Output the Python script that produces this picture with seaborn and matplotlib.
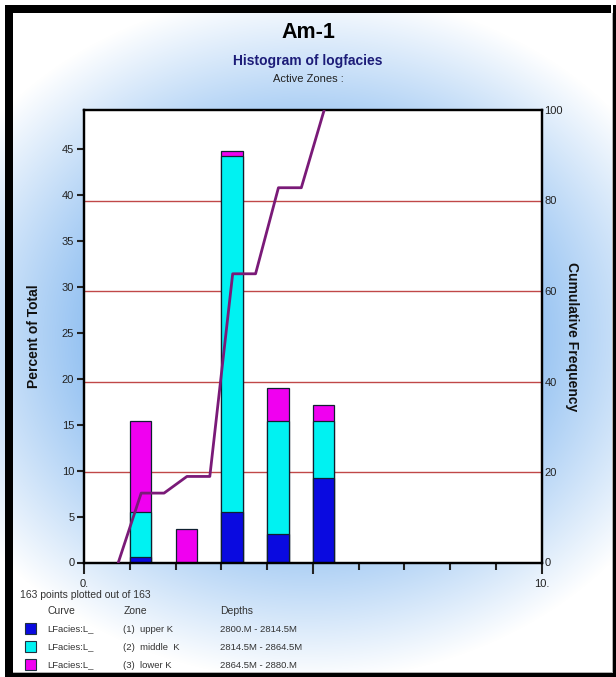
import numpy as np
import pandas as pd
import matplotlib
matplotlib.use("Agg")
import matplotlib.pyplot as plt
import matplotlib.transforms as mtransforms
from matplotlib.patches import Rectangle
import seaborn as sns

# ---- data: sample counts per log facies code, split by zone ----
facies_codes = [1, 2, 3, 4, 5]
upper_k = [1, 0, 9, 5, 15]
middle_k = [8, 0, 63, 20, 10]
lower_k = [16, 6, 1, 6, 3]
total_points = 163

zone_names = ["(1)  upper K", "(2)  middle  K", "(3)  lower K"]
zone_depths = ["2800.M - 2814.5M", "2814.5M - 2864.5M", "2864.5M - 2880.M"]
curve_name = "LFacies:L_"

left_ticks = [0, 5, 10, 15, 20, 25, 30, 35, 40, 45]
right_ticks = [0, 20, 40, 60, 80, 100]
x_tick_labels = {0: "0.", 10: "10."}

# ---- styling ----
C_BLUE = "#0a0ae0"
C_CYAN = "#00f2f2"
C_MAG = "#f000f0"
C_LINE = "#7a1a78"
C_GRID = "#c04848"
FONT = "Liberation Sans"

W, H = 616, 677
sns.set_theme(style="white")
plt.rcParams["font.family"] = [FONT, "DejaVu Sans"]

fig = plt.figure(figsize=(W / 100, H / 100), dpi=100, facecolor="white")

# background: soft blue glow fading to white, inside a black frame
bg = fig.add_axes([0, 0, 1, 1], zorder=-5)
yy, xx = np.mgrid[0:H, 0:W]
t = np.sqrt(((xx - 308) / 350.0) ** 2 + ((yy - 335) / 300.0) ** 2)
f = np.clip((1.15 - t) / 0.5, 0, 1)[..., None]
blue = np.array([0.60, 0.77, 0.95])
img = 1 - (1 - blue) * f
bg.imshow(img, extent=(0, W, H, 0), aspect="auto", interpolation="bilinear")
for (x0, y0, w, h) in [(5, 5, 606, 8), (5, 5, 8, 672), (613, 5, 3, 672), (5, 673, 611, 4)]:
    bg.add_patch(Rectangle((x0, y0), w, h, color="black", lw=0))
bg.add_patch(Rectangle((13, 671.5), 600, 1.5, color="#b0b0b0", lw=0))
bg.add_patch(Rectangle((611.5, 13), 1.5, 660, color="#b0b0b0", lw=0))
bg.set_xlim(0, W)
bg.set_ylim(H, 0)
bg.axis("off")

# main axes
L, R, T, B = 84, 541.5, 110, 562.5
ax = fig.add_axes([L / W, 1 - B / H, (R - L) / W, (B - T) / H], zorder=1)
ax.set_facecolor("white")

blue_arr = np.array(upper_k)
cyan_arr = blue_arr + np.array(middle_k)
mag_arr = cyan_arr + np.array(lower_k)
pct = lambda a: 100.0 * a / total_points

# bars start at the facies code and extend 0.47 to the right
bar_w = 0.47
df = pd.DataFrame({
    "x": np.array(facies_codes) + bar_w / 2,
    "lower": pct(mag_arr),
    "middle": pct(cyan_arr),
    "upper": pct(blue_arr),
})
for col, colr in [("lower", C_MAG), ("middle", C_CYAN), ("upper", C_BLUE)]:
    sns.barplot(data=df, x="x", y=col, native_scale=True, width=bar_w,
                color=colr, saturation=1, errorbar=None,
                edgecolor="#102030", linewidth=0.9, ax=ax, zorder=2)

ymax_left = 49.2
ax.set_xlim(0, 10)
ax.set_ylim(0, ymax_left)
ax.set_xlabel("")
ax.set_ylabel("Percent of Total", fontsize=10, fontweight="bold", color="#111111", labelpad=15)

# cumulative frequency on the right axis
ax2 = ax.twinx()
ax2.set_ylim(0, 100)
cum = pct(np.cumsum(np.array(upper_k) + np.array(middle_k) + np.array(lower_k)))
cum_prev = np.concatenate([[0], cum[:-1]])
line_x, line_y = [], []
for c, p0, p1 in zip(facies_codes, cum_prev, cum):
    line_x += [c - 0.25, c + 0.25]
    line_y += [p0, p1]
sns.lineplot(x=line_x, y=line_y, ax=ax2, color=C_LINE, lw=2, sort=False,
             estimator=None, zorder=5)
ax2.set_ylabel("Cumulative Frequency", fontsize=10, fontweight="bold",
               color="#111111", rotation=270, labelpad=12)

# horizontal reference lines at the cumulative 20/40/60/80 levels
tr = mtransforms.blended_transform_factory(ax.transAxes, ax2.transData)
for v in right_ticks[1:-1]:
    ax.plot([0, 1], [v, v], transform=tr, color=C_GRID, lw=1.0, zorder=1)

# ticks
ax.set_yticks(left_ticks)
ax.set_yticklabels([str(v) for v in left_ticks])
ax.tick_params(axis="y", direction="out", length=5, width=1.5, pad=2,
               labelsize=8, colors="#222222", left=True)
ax.set_xticks(range(0, 11))
ax.set_xticklabels([x_tick_labels.get(i, "") for i in range(0, 11)])
ax.tick_params(axis="x", direction="out", length=5, width=1.5, pad=7,
               labelsize=8, colors="#222222", bottom=True)
for i, tk in enumerate(ax.xaxis.get_major_ticks()):
    if i in (0, 5, 10):
        tk.tick1line.set_markersize(8)
ax2.set_yticks(right_ticks)
ax2.set_yticklabels([str(v) for v in right_ticks])
ax2.tick_params(axis="y", length=0, pad=2, labelsize=8, colors="#222222")

for a in (ax, ax2):
    for s in a.spines.values():
        s.set_color("black")
        s.set_linewidth(1.6)
        s.set_visible(True)

# titles
fig.text(308 / W, 1 - 33 / H, "Am-1", ha="center", va="center",
         fontsize=15.5, fontweight="bold", color="black")
fig.text(308 / W, 1 - 61 / H, "Histogram of logfacies", ha="center", va="center",
         fontsize=10, fontweight="bold", color="#1c1c78")
fig.text(308 / W, 1 - 79 / H, "Active Zones :", ha="center", va="center",
         fontsize=8, color="#222222")

# legend block below the chart
txt = dict(fontsize=7.5, color="#333333", va="center")
fig.text(20 / W, 1 - 595 / H, f"{total_points} points plotted out of {total_points}", **txt)
fig.text(48 / W, 1 - 611 / H, "Curve", **txt)
fig.text(124 / W, 1 - 611 / H, "Zone", **txt)
fig.text(220 / W, 1 - 611 / H, "Depths", **txt)
for k, (zn, dp, colr) in enumerate(zip(zone_names, zone_depths, [C_BLUE, C_CYAN, C_MAG])):
    yc = 629 + 18 * k
    bg.add_patch(Rectangle((25, yc - 6), 11, 11, facecolor=colr, edgecolor="#203040", lw=0.8))
    fig.text(47 / W, 1 - yc / H, curve_name, fontsize=6.8, color="#333333", va="center")
    fig.text(123 / W, 1 - yc / H, zn, fontsize=6.8, color="#333333", va="center")
    fig.text(220 / W, 1 - yc / H, dp, fontsize=6.8, color="#333333", va="center")

fig.savefig("out.png", dpi=100)
